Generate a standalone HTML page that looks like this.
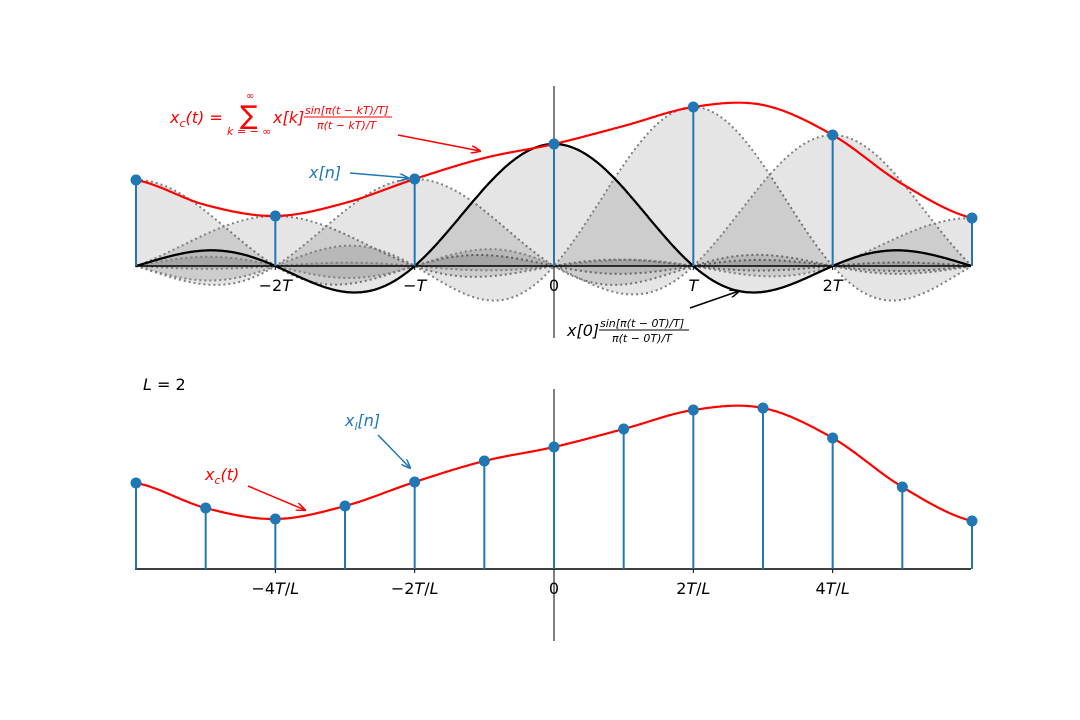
<!DOCTYPE html>
<html><head><meta charset="utf-8"><style>
body{margin:0;background:#fff}
svg{display:block;font-family:"DejaVu Sans","Liberation Sans",sans-serif}
</style></head><body>
<svg id="c" width="1080" height="720" viewBox="0 0 1080 720">
<defs>
<marker id="arR" markerWidth="10" markerHeight="8" refX="9" refY="4" orient="auto" markerUnits="userSpaceOnUse"><path d="M0,0 L10,4 L0,8" fill="none" stroke="#ff0000" stroke-width="1.5"/></marker>
<marker id="arB" markerWidth="10" markerHeight="8" refX="9" refY="4" orient="auto" markerUnits="userSpaceOnUse"><path d="M0,0 L10,4 L0,8" fill="none" stroke="#1f77b4" stroke-width="1.5"/></marker>
<marker id="arK" markerWidth="10" markerHeight="8" refX="9" refY="4" orient="auto" markerUnits="userSpaceOnUse"><path d="M0,0 L10,4 L0,8" fill="none" stroke="#000" stroke-width="1.5"/></marker>
<clipPath id="clip1"><rect x="135" y="60" width="836" height="290"/></clipPath>
</defs>
<g id="gtop"></g>
<g id="gbot"></g>
<g>
<g fill="#ff0000" font-style="italic">
<text x="170" y="123" font-size="16">x<tspan font-size="11" dy="4">c</tspan><tspan dy="-4">(t) =</tspan></text>
<text x="240" y="124" font-size="26" font-style="normal">∑</text>
<text x="246" y="99" font-size="10" font-style="normal">∞</text>
<text x="227" y="135" font-size="11">k = − ∞</text>
<text x="273" y="123" font-size="16">x[k]</text>
<text x="305" y="114" font-size="11">sin[π(t − kT)/T]</text>
<line x1="304" y1="117" x2="392" y2="117" stroke="#ff0000" stroke-width="1"/>
<text x="317" y="129" font-size="11">π(t − kT)/T</text>
</g>
<line x1="398" y1="135" x2="480" y2="151" stroke="#ff0000" stroke-width="1.5" marker-end="url(#arR)"/>
<text x="309" y="178" font-size="16" font-style="italic" fill="#1f77b4">x[n]</text>
<line x1="350" y1="173" x2="408" y2="178" stroke="#1f77b4" stroke-width="1.5" marker-end="url(#arB)"/>
<g font-style="italic">
<text x="567" y="336" font-size="16">x[0]</text>
<text x="600" y="327" font-size="11">sin[π(t − 0T)/T]</text>
<line x1="599" y1="330" x2="689" y2="330" stroke="#000" stroke-width="1"/>
<text x="612" y="342" font-size="11">π(t − 0T)/T</text>
</g>
<line x1="690" y1="308" x2="739" y2="291" stroke="#000" stroke-width="1.5" marker-end="url(#arK)"/>
<text x="143" y="390" font-size="16"><tspan font-style="italic">L</tspan> = 2</text>
<text x="345" y="426" font-size="16" font-style="italic" fill="#1f77b4">x<tspan font-size="11" dy="4">l</tspan><tspan dy="-4">[n]</tspan></text>
<line x1="378" y1="435" x2="410" y2="468" stroke="#1f77b4" stroke-width="1.5" marker-end="url(#arB)"/>
<text x="205" y="480" font-size="16" font-style="italic" fill="#ff0000">x<tspan font-size="11" dy="4">c</tspan><tspan dy="-4">(t)</tspan></text>
<line x1="248" y1="486" x2="305" y2="510" stroke="#ff0000" stroke-width="1.5" marker-end="url(#arR)"/>
</g>
</svg>
<script>
// interpolated samples x_l[m] at t = m*T/2, m = -6..6
const xi = [0.86, 0.61, 0.50, 0.63, 0.87, 1.08, 1.22, 1.40, 1.59, 1.61, 1.31, 0.82, 0.48];
const sampleIdx = [-6,-5,-4,-3,-2,-1,0,1,2,3,4,5,6];
const topTickLabels = ["−2T","−T","0","T","2T"];
const topTickPos = [-2,-1,0,1,2];
const botTickLabels = ["−4T/L","−2T/L","0","2T/L","4T/L"];
const botTickPos = [-4,-2,0,2,4];

const NS="http://www.w3.org/2000/svg";
const X0=554, TP=139.33, SC=100, YB1=266, YB2=569;
const tx = t => X0 + t*TP;
const y1 = v => YB1 - v*SC;
const y2 = v => YB2 - v*SC;
function el(tag, attrs, parent){const e=document.createElementNS(NS,tag);for(const k in attrs)e.setAttribute(k,attrs[k]);parent.appendChild(e);return e;}
const gTop=document.getElementById('gtop'), gBot=document.getElementById('gbot');
const sinc = u => Math.abs(u)<1e-9?1:Math.sin(Math.PI*u)/(Math.PI*u);
const xn=[], nIdx=[];
sampleIdx.forEach((m,i)=>{ if(m%2===0){ xn.push(xi[i]); nIdx.push(m/2);} });
function xc(t){
  const p=t*2+6; let i=Math.floor(p); if(i<0)i=0; if(i>xi.length-2)i=xi.length-2;
  const s=p-i; const g=j=>xi[Math.max(0,Math.min(xi.length-1,j))];
  const P0=g(i-1),P1=g(i),P2=g(i+1),P3=g(i+2);
  return 0.5*((2*P1)+(-P0+P2)*s+(2*P0-5*P1+4*P2-P3)*s*s+(-P0+3*P1-3*P2+P3)*s*s*s);
}
const sg=el('g',{'clip-path':'url(#clip1)'},gTop);


nIdx.forEach((k,j)=>{
  let d='';
  for(let t=-3;t<=3.0001;t+=0.01){d+=(d?'L':'M')+tx(t).toFixed(1)+','+y1(xn[j]*sinc(t-k)).toFixed(1);}
  const f=el('path',{d:d+'L'+tx(3)+','+YB1+'L'+tx(-3)+','+YB1+'Z',fill:'#000','fill-opacity':'0.1',stroke:'none'},sg);
  
  
  const p=el('path',{d:d,fill:'none',stroke:k===0?'#000':'#808080','stroke-width':2,'stroke-dasharray':k===0?'none':'2,3'},sg);
  
  
});
{let d='';for(let t=-3;t<=3.0001;t+=0.01){d+=(d?'L':'M')+tx(t).toFixed(1)+','+y1(xn[nIdx.indexOf(0)]*sinc(t)).toFixed(1);}
const p=el('path',{d:d,fill:'none',stroke:'#000','stroke-width':2.2},sg);

}
function axes(g,yb,ytop,ybot,pos,labels,scale){
  const a=el('line',{x1:135,y1:yb,x2:971,y2:yb,stroke:'#000','stroke-width':1.5},g);
  
  
  const v=el('line',{x1:X0,y1:ytop,x2:X0,y2:ybot,stroke:'#000','stroke-width':1},g);
  
  
  pos.forEach((p,i)=>{
    const x=tx(p*scale);
    const tk=el('line',{x1:x,y1:yb,x2:x,y2:yb+4,stroke:'#000','stroke-width':1},g);
    
    
    const t=el('text',{x:x,y:yb+25,'text-anchor':'middle','font-size':16},g);
    
    
    // italicize T and L letters
    labels[i].split(/([TL])/).forEach(part=>{
      if(!part)return;
      const ts=el('tspan',{},t);
      if(part==='T'||part==='L')ts.setAttribute('font-style','italic');
      ts.textContent=part;
    });
  });
}
function curve(g,yf){
  let d='';for(let t=-3;t<=3.0001;t+=0.01){d+=(d?'L':'M')+tx(t).toFixed(1)+','+yf(xc(t)).toFixed(1);}
  const p=el('path',{d:d,fill:'none',stroke:'#ff0000','stroke-width':2.2},g);
  
  
}
axes(gTop,YB1,86,338,topTickPos,topTickLabels,1);
curve(gTop,y1);
nIdx.forEach((k,j)=>{
  const x=tx(k);
  const s=el('line',{x1:x,y1:YB1,x2:x,y2:y1(xn[j]),stroke:'#1f77b4','stroke-width':2},gTop);
  
  
  const c=el('circle',{cx:x,cy:y1(xn[j]),r:5.5,fill:'#1f77b4'},gTop);
  
  
});
axes(gBot,YB2,389,641,botTickPos,botTickLabels,0.5);
sampleIdx.forEach((m,i)=>{
  const x=tx(m/2);
  const s=el('line',{x1:x,y1:YB2,x2:x,y2:y2(xi[i]),stroke:'#1f77b4','stroke-width':2},gBot);
  
  
});
curve(gBot,y2);
sampleIdx.forEach((m,i)=>{
  const c=el('circle',{cx:tx(m/2),cy:y2(xi[i]),r:5.5,fill:'#1f77b4'},gBot);
  
  
});
</script>
</body></html>
